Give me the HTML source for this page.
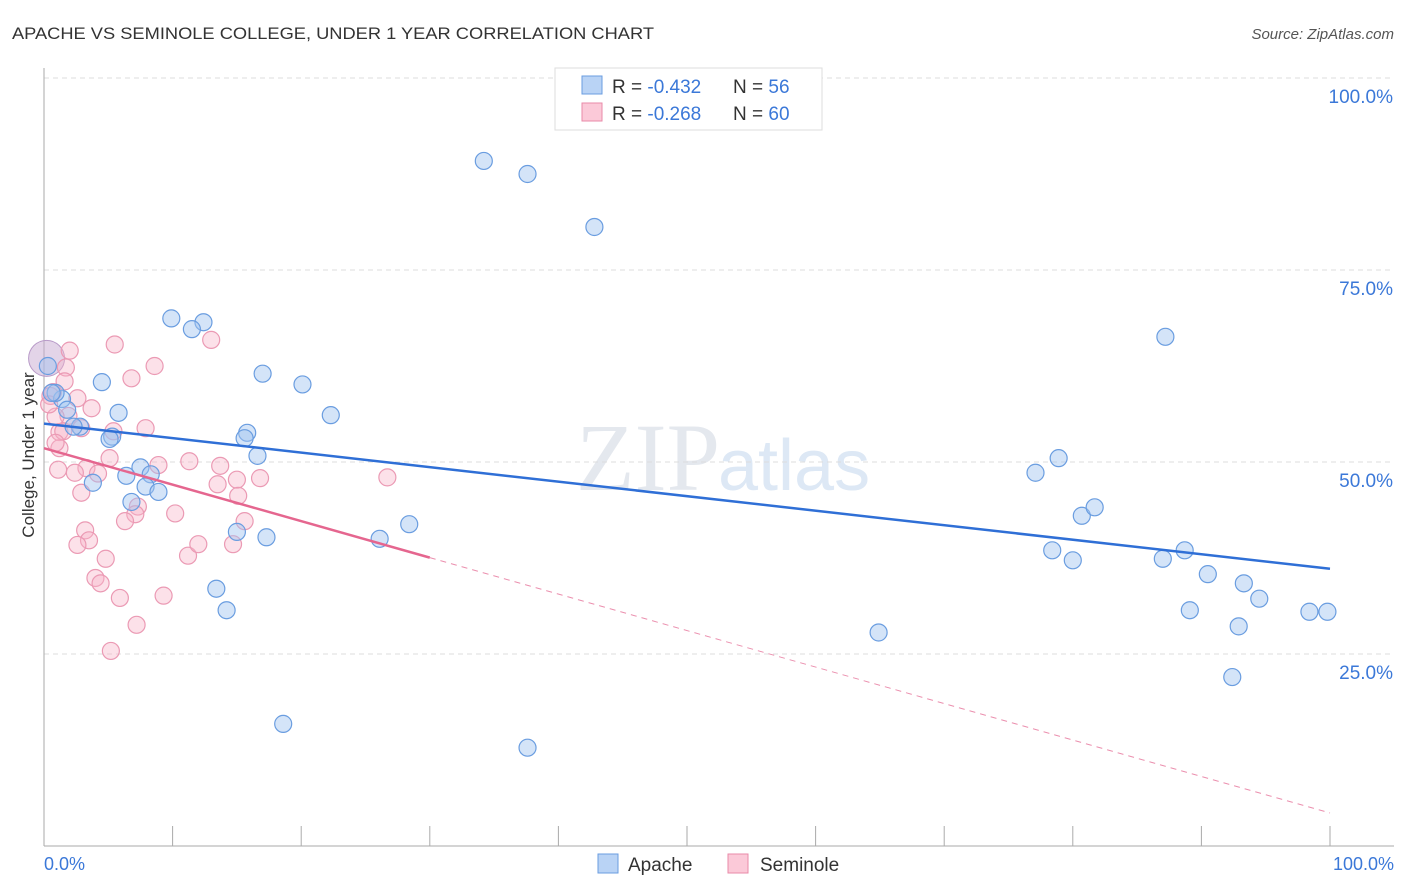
<!DOCTYPE html>
<html><head><meta charset="utf-8"><style>
body{margin:0;background:#fff;font-family:"Liberation Sans",sans-serif}
svg{display:block}
</style></head><body>
<svg width="1406" height="892" id="c">
<text x="12" y="39" font-size="17" fill="#333" textLength="642" lengthAdjust="spacingAndGlyphs">APACHE VS SEMINOLE COLLEGE, UNDER 1 YEAR CORRELATION CHART</text>
<text x="1394" y="39" font-size="15" fill="#555" font-style="italic" text-anchor="end">Source: ZipAtlas.com</text>
<text x="720" y="490" font-size="96" fill="#e4e8ee" font-family="Liberation Serif" text-anchor="end">ZIP</text>
<text x="718" y="490" font-size="72" fill="#dde8f5">atlas</text>
<g id="grid"></g>
<line x1="44" y1="68" x2="44" y2="846" stroke="#aaa"/>
<line x1="44" y1="846" x2="1394" y2="846" stroke="#aaa"/>
<text x="34" y="455" font-size="17" fill="#333" text-anchor="middle" transform="rotate(-90 34 455)">College, Under 1 year</text>
<text x="44" y="870" font-size="18" fill="#3b78d8">0.0%</text>
<text x="1394" y="870" font-size="18" fill="#3b78d8" text-anchor="end">100.0%</text>
<g id="pts"></g>
<g id="lines"></g>
<g>
<rect x="555" y="68" width="267" height="62" fill="#fff" stroke="#ddd"/>
<rect x="582" y="76" width="20" height="18" fill="#b9d3f5" stroke="#6a9de0"/>
<rect x="582" y="103" width="20" height="18" fill="#fbc9d8" stroke="#e88aa8"/>
<text x="612" y="93" font-size="19" fill="#333">R = <tspan fill="#3b78d8">-0.432</tspan></text>
<text x="733" y="93" font-size="19" fill="#333">N = <tspan fill="#3b78d8">56</tspan></text>
<text x="612" y="120" font-size="19" fill="#333">R = <tspan fill="#3b78d8">-0.268</tspan></text>
<text x="733" y="120" font-size="19" fill="#333">N = <tspan fill="#3b78d8">60</tspan></text>
</g>
<g>
<rect x="598" y="854" width="20" height="19" fill="#b9d3f5" stroke="#6a9de0"/>
<text x="628" y="871" font-size="19" fill="#333">Apache</text>
<rect x="728" y="854" width="20" height="19" fill="#fbc9d8" stroke="#e88aa8"/>
<text x="760" y="871" font-size="19" fill="#333">Seminole</text>
</g>
</svg>
<script>
const yTicks=[25,50,75,100];
const xTicks=[10,20,30,40,50,60,70,80,90,100];
const apacheX=[34.2,37.6,42.8,9.9,12.4,11.5,17.0,20.1,4.5,22.3,5.8,1.4,0.9,1.8,2.8,2.3,5.3,5.1,15.8,15.6,16.6,7.5,6.4,8.3,3.8,7.9,8.9,6.8,15.0,17.3,26.1,28.4,13.4,14.2,18.6,37.6,64.9,87.2,77.1,78.9,80.7,81.7,78.4,80.0,87.0,88.7,90.5,93.3,94.5,89.1,92.9,98.4,99.8,92.4,0.3,0.6];
const apacheY=[89.2,87.5,80.6,68.7,68.2,67.3,61.5,60.1,60.4,56.1,56.4,58.2,59.0,56.8,54.6,54.6,53.3,53.0,53.8,53.1,50.8,49.3,48.2,48.4,47.3,46.8,46.1,44.8,40.9,40.2,40.0,41.9,33.5,30.7,15.9,12.8,27.8,66.3,48.6,50.5,43.0,44.1,38.5,37.2,37.4,38.5,35.4,34.2,32.2,30.7,28.6,30.5,30.5,22.0,62.5,59.0];
const semX=[2.0,5.5,1.7,8.6,6.8,13.0,1.6,0.7,2.6,3.7,1.9,0.9,1.2,2.9,1.5,7.9,5.4,1.1,5.1,3.3,2.4,4.2,2.9,8.9,11.3,13.7,15.0,16.8,26.7,13.5,15.1,7.3,7.1,10.2,15.6,3.2,3.5,2.6,4.8,11.2,12.0,14.7,4.0,4.4,5.9,9.3,7.2,5.2,0.5,1.2,6.3,0.4,0.9];
const semY=[64.5,65.3,62.3,62.5,60.9,65.9,60.5,59.1,58.3,57.0,56.0,55.9,53.9,54.4,54.0,54.4,54.0,49.0,50.5,49.2,48.6,48.5,46.0,49.6,50.1,49.5,47.7,47.9,48.0,47.1,45.6,44.2,43.2,43.3,42.3,41.1,39.8,39.2,37.4,37.8,39.3,39.3,34.9,34.2,32.3,32.6,28.8,25.4,58.6,51.8,42.3,57.5,52.5];
const X=v=>44+v*12.86, Y=v=>846-v*7.68;
const NS='http://www.w3.org/2000/svg';
function mk(t,a,p){const e=document.createElementNS(NS,t);for(const k in a)e.setAttribute(k,a[k]);p.appendChild(e);return e;}
const g=document.getElementById('grid');
yTicks.forEach(t=>{
 const l=mk('line',{x1:44,x2:1394,y1:Y(t),y2:Y(t),stroke:'#ddd','stroke-dasharray':'5,4'},g);
 
 
 const tx=mk('text',{x:1393,y:Y(t)+25,'font-size':19,fill:'#3b78d8','text-anchor':'end'},g);
 tx.textContent=t.toFixed(1)+'%';
 
 
});
xTicks.forEach(t=>{
 const l=mk('line',{x1:X(t),x2:X(t),y1:826,y2:846,stroke:'#aaa'},g);
 
 
});
const p=document.getElementById('pts');
const big=mk('circle',{cx:X(0.2),cy:Y(63.5),r:18,fill:'rgba(200,170,210,0.5)',stroke:'#b89ac8'},p);


semX.forEach((x,i)=>{const c=mk('circle',{cx:X(x),cy:Y(semY[i]),r:8.5,fill:'rgba(248,180,200,0.4)',stroke:'#eb9ab4','stroke-width':1.2},p);
 
 });
apacheX.forEach((x,i)=>{const c=mk('circle',{cx:X(x),cy:Y(apacheY[i]),r:8.5,fill:'rgba(160,195,240,0.45)',stroke:'#6a9de0','stroke-width':1.2},p);
 
 });
const L=document.getElementById('lines');
const ba=55.0,bb=-0.189, pa=51.8,pb=-0.475;
let l=mk('line',{x1:X(0),y1:Y(ba),x2:X(100),y2:Y(ba+bb*100),stroke:'#2f6fd6','stroke-width':2.5},L);


l=mk('line',{x1:X(0),y1:Y(pa),x2:X(30),y2:Y(pa+pb*30),stroke:'#e5668f','stroke-width':2.5},L);


l=mk('line',{x1:X(30),y1:Y(pa+pb*30),x2:X(100),y2:Y(pa+pb*100),stroke:'#eb8fae','stroke-width':1,'stroke-dasharray':'6,5'},L);


</script>
</body></html>
